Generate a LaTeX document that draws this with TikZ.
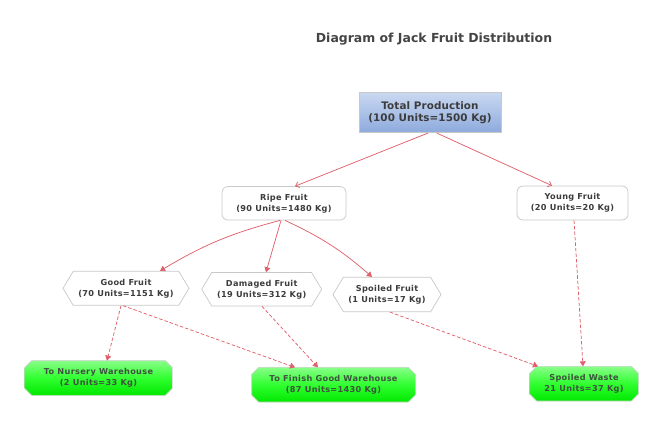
\documentclass[tikz,border=0pt]{standalone}
\usepackage{fontspec}
\setmainfont{DejaVu Sans}
\newfontfamily\labfont[LetterSpace=4]{DejaVu Sans}
\newfontfamily\topfont[LetterSpace=1]{DejaVu Sans}
\usetikzlibrary{shapes.misc,shapes.symbols,arrows.meta,calc,backgrounds}
\definecolor{boxgray}{HTML}{C8C8C8}
\definecolor{txt}{HTML}{3C3C3C}
\definecolor{gtxt}{HTML}{3F523F}
\definecolor{lnk}{HTML}{E0606C}
\definecolor{btop}{HTML}{C9D8F1}
\definecolor{bbot}{HTML}{8DAADC}
\definecolor{gtop}{HTML}{88FF88}
\definecolor{gmid}{HTML}{30FF30}
\definecolor{gbot}{HTML}{00E800}
\definecolor{gedge}{HTML}{C4D4C4}
\tikzset{
  base/.style={draw=boxgray, line width=0.7bp, font=\labfont\bfseries\fontsize{8.2}{11}\selectfont,
    text=txt, align=center, inner sep=0pt},
  rbox/.style={base, rectangle, rounded corners=6bp, fill=white},
  hexbox/.style={base, signal, signal to=west and east, signal pointer angle=118, fill=white},
  gbox/.style={base, draw=none, rectangle, text=gtxt},
  gshape/.style={draw=gedge, line width=0.7bp, top color=gtop, bottom color=gbot, middle color=gmid},
  solidlink/.style={draw=lnk, line width=0.75bp, -{Straight Barb[length=3.5bp,width=6bp]}},
  filllink/.style={draw=lnk, line width=0.75bp, -{Triangle[length=5bp,width=6bp]}},
  dashlink/.style={draw=lnk, line width=0.75bp, dash pattern=on 3.5bp off 2bp, -{Triangle[length=5bp,width=6bp]}},
}
\newcommand\octabox[1]{%
  \path[gshape] ($(#1.north west)+(7,0)$) -- ($(#1.north east)+(-7,0)$) -- ($(#1.north east)+(0,-7)$)
    -- ($(#1.south east)+(0,7)$) -- ($(#1.south east)+(-7,0)$) -- ($(#1.south west)+(7,0)$)
    -- ($(#1.south west)+(0,7)$) -- ($(#1.north west)+(0,-7)$) -- cycle;}
\begin{document}
\begin{tikzpicture}[x=1bp,y=1bp]
\useasboundingbox (0,0) rectangle (665,426);
\node[font=\bfseries\fontsize{12.5}{15}\selectfont, text={rgb,255:red,68;green,68;blue,68}] (title) at (434,387) {Diagram of Jack Fruit Distribution};

\node[base, rectangle, top color=btop, bottom color=bbot, minimum width=142bp, minimum height=40bp,
  font=\topfont\bfseries\fontsize{10.4}{12.5}\selectfont] (total) at (430,313.3) {Total Production\\(100 Units=1500 Kg)};

\node[rbox, minimum width=124bp, minimum height=33.5bp] (ripe) at (284,222.7) {Ripe Fruit\\(90 Units=1480 Kg)};
\node[rbox, minimum width=111bp, minimum height=34bp] (young) at (572.5,223) {Young Fruit\\(20 Units=20 Kg)};

\node[hexbox, minimum width=126bp, minimum height=34bp] (good) at (126,137.7) {Good Fruit\\(70 Units=1151 Kg)};
\node[hexbox, minimum width=120bp, minimum height=33.5bp] (damaged) at (261.7,136.7) {Damaged Fruit\\(19 Units=312 Kg)};
\node[hexbox, minimum width=108bp, minimum height=34.5bp] (spoiled) at (387,131.5) {Spoiled Fruit\\(1 Units=17 Kg)};

\node[gbox, minimum width=147bp, minimum height=34bp] (nursery) at (98.5,48) {To Nursery Warehouse\\(2 Units=33 Kg)};
\node[gbox, minimum width=163bp, minimum height=34bp] (finish) at (333.5,41.3) {To Finish Good Warehouse\\(87 Units=1430 Kg)};
\node[gbox, minimum width=108bp, minimum height=34bp] (waste) at (584,42.3) {Spoiled Waste\\21 Units=37 Kg)};

\begin{scope}[on background layer]
\octabox{nursery}
\octabox{finish}
\octabox{waste}
\end{scope}

\draw[solidlink] ($(total.south)+(-2,0)$) -- ($(ripe.north)+(11,0)$);
\draw[solidlink] ($(total.south)+(6.7,0)$) -- ($(young.north)+(-20.5,0)$);

\draw[filllink] ($(ripe.south)+(-4,0)$) to[bend right=8] ($(good.north)+(34,0)$);
\draw[filllink] ($(ripe.south)+(-3,0)$) -- ($(damaged.north)+(4.3,0)$);
\draw[filllink] ($(ripe.south)+(1,0)$) to[bend left=8] ($(spoiled.north)+(-15,0)$);

\draw[dashlink] ($(good.south)+(-5,0)$) -- ($(nursery.north)+(8.5,0)$);
\draw[dashlink] ($(good.south)+(-3,0)$) -- ($(finish.north)+(-38.5,0)$);
\draw[dashlink] ($(damaged.south)+(0.3,0)$) -- ($(finish.north)+(-15.5,0)$);
\draw[dashlink] ($(spoiled.south)+(3,0)$) -- ($(waste.north)+(-46,0)$);
\draw[dashlink] ($(young.south)+(1.5,0)$) -- ($(waste.north)+(-1,0)$);
\end{tikzpicture}
\end{document}
